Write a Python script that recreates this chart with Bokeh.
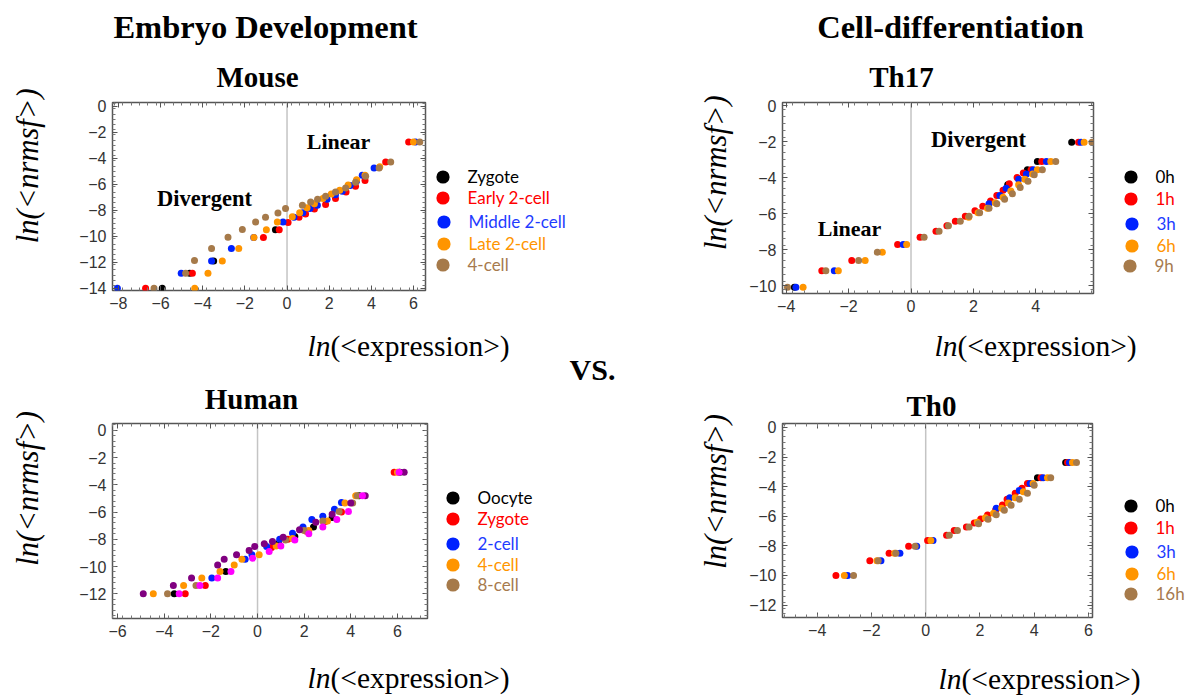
import numpy as np
from bokeh.plotting import figure
from bokeh.models import (Label, Legend, LegendItem, Span, LinearAxis, FixedTicker, Range1d,
                          CustomJSTickFormatter)
from bokeh.layouts import row, column
from bokeh.embed import file_html
from bokeh.resources import INLINE

# ---------------- data ----------------
mouse_names = ["Zygote", "Early 2-cell", "Middle 2-cell", "Late 2-cell", "4-cell"]
mouse_zygote_x = [-5.92, -4.62, -3.48, -0.55]
mouse_zygote_y = [-14.0, -12.85, -11.9, -9.5]
mouse_early_x = [-6.71, -4.49, -1.12, -0.37, 0.05, 0.57, 0.88, 1.3, 1.83, 2.3, 2.8, 3.25, 3.7, 4.68, 5.77]
mouse_early_y = [-14.0, -12.85, -10.1, -9.5, -8.95, -8.54, -8.28, -7.9, -7.56, -7.1, -6.6, -6.15, -5.7, -4.28, -2.75]
mouse_middle_x = [-8.05, -5.02, -3.58, -2.64, -1.58, -0.19, 0.33, 0.75, 1.09, 1.44, 1.9, 2.3, 2.62, 3.0, 3.3, 3.57, 4.13, 6.1]
mouse_middle_y = [-14.0, -12.85, -11.9, -10.95, -10.1, -8.9, -8.54, -8.2, -7.87, -7.62, -7.15, -6.8, -6.54, -6.1, -5.75, -5.31, -4.74, -2.75]
mouse_late_x = [-4.38, -3.75, -3.07, -2.29, -1.57, -0.98, -0.46, 0.25, 0.6, 0.95, 1.3, 1.7, 2.1, 2.5, 2.9, 3.3, 3.7, 4.4, 6.0]
mouse_late_y = [-14.0, -12.85, -11.9, -10.95, -10.1, -9.5, -8.9, -8.5, -8.2, -7.8, -7.5, -7.1, -6.75, -6.45, -6.05, -5.65, -5.3, -4.65, -2.75]
mouse_4cell_x = [-6.31, -4.81, -4.39, -3.58, -2.80, -2.12, -1.49, -1.02, -0.43, -0.07, 0.73, 1.12, 1.45, 1.83, 2.3, 2.78, 3.25, 3.73, 4.37, 4.92, 6.3]
mouse_4cell_y = [-14.0, -12.85, -11.87, -10.95, -10.08, -9.48, -8.9, -8.54, -8.21, -7.87, -7.62, -7.36, -7.15, -6.92, -6.6, -6.28, -5.85, -5.38, -4.74, -4.28, -2.75]

human_names = ["Oocyte", "Zygote", "2-cell", "4-cell", "8-cell"]
human_oocyte_x = [-3.57, -1.36, 0.9, 1.6, 2.4, 3.2, 4.36, 6.1]
human_oocyte_y = [-12.0, -10.37, -8.3, -7.8, -7.1, -6.4, -4.8, -3.07]
human_zygote_x = [-3.10, -2.24, 0.6, 1.3, 2.1, 2.9, 3.6, 5.86]
human_zygote_y = [-12.0, -11.4, -8.6, -8.0, -7.4, -6.7, -6.0, -3.07]
human_2cell_x = [-1.96, -0.53, -0.24, 0.39, 0.95, 1.5, 1.95, 2.33, 2.8, 3.3, 3.6]
human_2cell_y = [-10.85, -9.46, -9.14, -8.53, -8.0, -7.55, -7.1, -6.55, -6.3, -5.8, -5.3]
human_4cell_x = [-4.47, -3.17, -2.39, -1.61, -1.0, -0.67, 0.07, 0.8, 1.5, 2.2, 3.0, 3.75, 4.21, 6.0]
human_4cell_y = [-12.0, -11.4, -10.85, -10.37, -9.88, -9.46, -9.14, -8.5, -7.95, -7.35, -6.65, -5.34, -4.8, -3.07]
human_8cell_x = [-3.86, -2.64, 1.2, 2.0, 2.8, 3.5, 4.08, 4.28]
human_8cell_y = [-12.0, -11.4, -8.05, -7.35, -6.65, -5.95, -5.34, -4.8]
human_purple_x = [-4.90, -3.61, -2.83, -1.71, -1.43, -0.9, -0.36, -0.12, 0.29, 0.64, 1.1, 1.8, 2.5, 3.2, 4.0, 4.62, 6.29]
human_purple_y = [-12.0, -11.4, -10.85, -9.88, -9.46, -9.14, -8.82, -8.53, -8.33, -8.16, -7.85, -7.3, -6.75, -6.15, -5.34, -4.8, -3.07]
human_magenta_x = [-3.36, -2.47, -1.71, -1.14, -0.21, 0.5, 1.0, 1.6, 2.2, 2.8, 3.4, 3.9, 4.5, 6.07]
human_magenta_y = [-12.0, -11.4, -10.85, -10.37, -9.39, -8.9, -8.5, -8.05, -7.6, -7.1, -6.55, -5.95, -4.8, -3.07]

th17_names = ["0h", "1h", "3h", "6h", "9h"]
th17_0h_x = [-3.74, 3.1, 3.73, 4.05, 5.15]
th17_0h_y = [-10.09, -4.4, -3.56, -3.11, -2.04]
th17_1h_x = [-2.86, -1.90, -0.43, 0.29, 0.80, 1.15, 1.42, 1.74, 2.05, 2.3, 2.55, 2.75, 2.95, 3.15, 3.4, 3.6, 3.85, 4.19, 5.37]
th17_1h_y = [-9.17, -8.61, -7.72, -7.31, -6.98, -6.67, -6.43, -6.15, -5.85, -5.6, -5.3, -5.0, -4.7, -4.35, -4.0, -3.75, -3.56, -3.11, -2.04]
th17_3h_x = [-3.69, -2.46, -0.25, 2.5, 2.85, 3.05, 3.45, 3.7, 3.92, 4.34, 5.45]
th17_3h_y = [-10.09, -9.17, -7.72, -5.45, -5.0, -4.6, -4.1, -3.8, -3.56, -3.11, -2.04]
th17_6h_x = [-3.46, -2.33, -1.47, -0.92, -0.14, 1.85, 2.15, 2.45, 2.7, 2.95, 3.2, 3.45, 3.65, 3.9, 4.05, 4.48, 5.55]
th17_6h_y = [-10.09, -9.17, -8.61, -8.15, -7.72, -6.2, -5.95, -5.7, -5.4, -5.1, -4.75, -4.4, -4.1, -3.8, -3.56, -3.11, -2.04]
th17_9h_x = [-3.96, -2.73, -1.68, -1.08, 0.42, 0.90, 1.2, 1.58, 1.86, 2.2, 2.5, 2.75, 3.0, 3.25, 3.5, 3.75, 3.95, 4.21, 4.64, 5.80]
th17_9h_y = [-10.09, -9.17, -8.61, -8.15, -7.31, -6.98, -6.67, -6.43, -6.15, -5.95, -5.7, -5.45, -5.2, -4.9, -4.55, -4.2, -3.85, -3.56, -3.11, -2.04]

th0_names = ["0h", "1h", "3h", "6h", "16h"]
th0_0h_x = [4.12, 5.16]
th0_0h_y = [-3.40, -2.37]
th0_1h_x = [-3.31, -2.06, -1.35, -0.63, 0.07, 0.77, 1.05, 1.50, 1.79, 2.03, 2.28, 2.58, 2.83, 3.0, 3.3, 3.55, 3.75, 4.25, 5.23]
th0_1h_y = [-10.0, -9.0, -8.5, -8.03, -7.63, -7.29, -6.96, -6.73, -6.46, -6.19, -5.91, -5.57, -5.23, -4.85, -4.45, -4.11, -3.78, -3.40, -2.37]
th0_3h_x = [-2.88, -1.65, -0.95, -0.33, 0.27, 2.6, 3.1, 3.45, 3.85, 4.33, 5.3]
th0_3h_y = [-10.0, -9.0, -8.5, -8.03, -7.63, -5.45, -4.75, -4.25, -3.78, -3.40, -2.37]
th0_6h_x = [-3.0, -1.80, -1.15, 0.19, 1.9, 2.2, 2.5, 2.8, 3.05, 3.3, 3.6, 3.96, 4.49, 5.41]
th0_6h_y = [-10.0, -9.0, -8.5, -7.63, -6.4, -6.1, -5.8, -5.45, -5.1, -4.75, -4.35, -3.78, -3.40, -2.37]
th0_16h_x = [-2.66, -1.75, -1.10, -0.39, 0.87, 1.17, 1.60, 1.95, 2.3, 2.6, 2.9, 3.15, 3.45, 3.75, 4.0, 4.61, 5.56]
th0_16h_y = [-10.0, -9.0, -8.5, -8.03, -7.29, -6.96, -6.73, -6.5, -6.2, -5.9, -5.6, -5.25, -4.85, -4.45, -3.9, -3.40, -2.37]

mouse_xticks = [-8, -6, -4, -2, 0, 2, 4, 6]
mouse_yticks = [0, -2, -4, -6, -8, -10, -12, -14]
human_xticks = [-6, -4, -2, 0, 2, 4, 6]
human_yticks = [0, -2, -4, -6, -8, -10, -12]
th17_xticks = [-4, -2, 0, 2, 4, 6]
th17_yticks = [0, -2, -4, -6, -8, -10]
th0_xticks = [-4, -2, 0, 2, 4, 6]
th0_yticks = [0, -2, -4, -6, -8, -10, -12]

# ---------------- styles ----------------
PT_COLORS = ["#000000", "#ff0000", "#0022ff", "#ff9500", "#a67a4a"]
TXT_COLORS = ["#000000", "#ff0000", "#1f3cff", "#ff9500", "#a67a4e"]
PURPLE = "#800080"
MAGENTA = "#ff00ff"
SERIF = "Liberation Serif"
SANS = "Liberation Sans"
LEG_FONT = "Lato"
TOTAL_W, TOTAL_H = 1188, 698

MINUS_FMT = "return tick < 0 ? '\u2212' + Math.abs(tick) : String(tick)"


def style_axis(ax, ticks, lo, hi, show_labels=True):
    minor = [float(v) for v in np.arange(np.floor(lo) - 2, hi + 2, 0.4)]
    ax.ticker = FixedTicker(ticks=ticks, minor_ticks=minor)
    ax.formatter = CustomJSTickFormatter(code=MINUS_FMT)
    ax.axis_line_color = None
    ax.major_tick_in = 5
    ax.major_tick_out = 0
    ax.minor_tick_in = 3
    ax.minor_tick_out = 0
    ax.major_tick_line_color = "#555555"
    ax.minor_tick_line_color = "#777777"
    ax.major_label_text_font = SANS
    ax.major_label_text_font_size = "16px"
    ax.major_label_standoff = 6
    ax.major_label_text_color = "#333333" if show_labels else None


def make_panel(geom, xr, yr, xticks, yticks, series):
    fl, ft, fr, fb, ox, oy, W, H = geom
    p = figure(frame_width=fr - fl, frame_height=fb - ft,
               x_range=Range1d(*xr), y_range=Range1d(*yr),
               min_border_left=fl - ox, min_border_top=ft - oy,
               min_border_right=ox + W - fr, min_border_bottom=oy + H - fb,
               output_backend="svg", toolbar_location=None)
    p.xgrid.visible = False
    p.ygrid.visible = False
    p.outline_line_color = "#555555"
    p.outline_line_width = 1.5
    p.background_fill_color = "white"
    p.border_fill_color = None
    style_axis(p.xaxis[0], xticks, *xr)
    style_axis(p.yaxis[0], yticks, *yr)
    top = LinearAxis()
    style_axis(top, xticks, *xr, show_labels=False)
    right = LinearAxis()
    style_axis(right, yticks, *yr, show_labels=False)
    p.add_layout(top, "above")
    p.add_layout(right, "right")
    p.add_layout(Span(location=0, dimension="height", line_color="#c4c4c4",
                      line_width=1.5, level="underlay"))
    for (xs, ys, c) in series:
        p.scatter(xs, ys, size=7, fill_color=c, line_color=None)
    return p


p_mouse = make_panel(
    (112, 101, 425, 289, 0, 0, 628, 385), (-8.28, 6.57), (-14.18, 0.3),
    mouse_xticks, mouse_yticks,
    [(mouse_zygote_x, mouse_zygote_y, PT_COLORS[0]),
     (mouse_early_x, mouse_early_y, PT_COLORS[1]),
     (mouse_middle_x, mouse_middle_y, PT_COLORS[2]),
     (mouse_late_x, mouse_late_y, PT_COLORS[3]),
     (mouse_4cell_x, mouse_4cell_y, PT_COLORS[4])])

p_th17 = make_panel(
    (782, 102, 1093, 293, 628, 0, 560, 385), (-4.12, 5.85), (-10.44, 0.17),
    th17_xticks, th17_yticks,
    [(th17_0h_x, th17_0h_y, PT_COLORS[0]),
     (th17_1h_x, th17_1h_y, PT_COLORS[1]),
     (th17_3h_x, th17_3h_y, PT_COLORS[2]),
     (th17_6h_x, th17_6h_y, PT_COLORS[3]),
     (th17_9h_x, th17_9h_y, PT_COLORS[4])])

p_human = make_panel(
    (112, 422, 427, 617, 0, 385, 628, 310), (-6.22, 7.29), (-13.82, 0.51),
    human_xticks, human_yticks,
    [(human_oocyte_x, human_oocyte_y, PT_COLORS[0]),
     (human_zygote_x, human_zygote_y, PT_COLORS[1]),
     (human_2cell_x, human_2cell_y, PT_COLORS[2]),
     (human_4cell_x, human_4cell_y, PT_COLORS[3]),
     (human_8cell_x, human_8cell_y, PT_COLORS[4]),
     (human_purple_x, human_purple_y, PURPLE),
     (human_magenta_x, human_magenta_y, MAGENTA)])

p_th0 = make_panel(
    (782, 423, 1092, 617, 628, 385, 560, 310), (-5.28, 6.15), (-12.84, 0.27),
    th0_xticks, th0_yticks,
    [(th0_0h_x, th0_0h_y, PT_COLORS[0]),
     (th0_1h_x, th0_1h_y, PT_COLORS[1]),
     (th0_3h_x, th0_3h_y, PT_COLORS[2]),
     (th0_6h_x, th0_6h_y, PT_COLORS[3]),
     (th0_16h_x, th0_16h_y, PT_COLORS[4])])

# ---------- transparent overlay page for titles, axis names and legends ----------
p_text = figure(width=TOTAL_W, height=TOTAL_H, x_range=Range1d(0, TOTAL_W),
                y_range=Range1d(TOTAL_H, 0), x_axis_type=None, y_axis_type=None,
                min_border=0, output_backend="svg", toolbar_location=None,
                styles={"position": "absolute", "left": "0px", "top": "0px",
                        "z-index": "10"})
p_text.xgrid.visible = False
p_text.ygrid.visible = False
p_text.outline_line_color = None
p_text.background_fill_color = None
p_text.border_fill_color = None


def add_text(txt, ix, baseline_y, size, style="bold", align="center"):
    # anchor correction so that the text's alphabetic baseline lands on baseline_y
    p_text.add_layout(Label(x=ix, y=baseline_y - 0.29 * size, text=txt, text_font=SERIF,
                            text_font_size=f"{size}px", text_font_style=style,
                            text_color="black", text_align=align,
                            text_baseline="alphabetic"))


def add_xlabel(ix, iy):
    add_text("ln", ix, iy, 29.5, "italic", "left")
    add_text("(<expression>)", ix + 23, iy, 29.5, "normal", "left")


def add_ylabel(ix, iy):
    p_text.add_layout(Label(x=ix, y=iy, text="ln(<nrmsf>)", text_font=SERIF,
                            text_font_size="30.5px", text_font_style="italic",
                            text_color="black", text_align="center",
                            text_baseline="middle", angle=np.pi / 2))


def add_legend(names, colors, item_pos):
    for i, name in enumerate(names):
        r = p_text.scatter(x=[np.nan], y=[np.nan], fill_color=colors[i], line_color=None)
        ix, iy = item_pos[i]
        leg = Legend(items=[LegendItem(label=name, renderers=[r])],
                     location=(ix - 16.5, TOTAL_H - iy - 16.5),
                     glyph_width=33, glyph_height=33, padding=0, margin=0,
                     border_line_color=None, background_fill_alpha=0,
                     label_standoff=9, label_text_font=LEG_FONT,
                     label_text_font_size="17px", label_text_color=TXT_COLORS[i],
                     spacing=0)
        p_text.add_layout(leg)


# mouse
add_text("Embryo Development", 265, 36, 32.5)
add_text("Mouse", 257, 85, 29)
add_text("Linear", 338, 148, 22)
add_text("Divergent", 204, 205, 22.5)
add_ylabel(27, 166)
add_xlabel(307, 356)
add_legend(mouse_names, PT_COLORS,
           [(442, 179.5), (442, 200.5), (443, 224), (443, 246.5), (442, 267)])
# vs
add_text("VS.", 592, 379, 30)
# th17
add_text("Cell-differentiation", 950, 36, 32.5)
add_text("Th17", 901, 85, 29)
add_text("Divergent", 978, 146, 22.5)
add_text("Linear", 849, 235, 22)
add_ylabel(715, 173)
add_xlabel(934, 356)
add_legend(th17_names, PT_COLORS,
           [(1130, 179.5), (1130, 201.5), (1131, 226), (1131, 248), (1129, 268)])
# human
add_text("Human", 251, 409, 29)
add_ylabel(27, 490)
add_xlabel(307, 689)
add_legend(human_names, PT_COLORS,
           [(452, 500), (452, 521.5), (452, 546), (452, 567.5), (452, 587)])
# th0
add_text("Th0", 931, 416, 29)
add_ylabel(715, 493)
add_xlabel(938, 690)
add_legend(th0_names, PT_COLORS,
           [(1130, 508.5), (1130, 530.5), (1131, 554), (1131, 576.5), (1130, 596.5)])

layout = column(row(p_mouse, p_th17), row(p_human, p_th0), p_text)
open("out.html", "w").write(file_html(layout, INLINE))
